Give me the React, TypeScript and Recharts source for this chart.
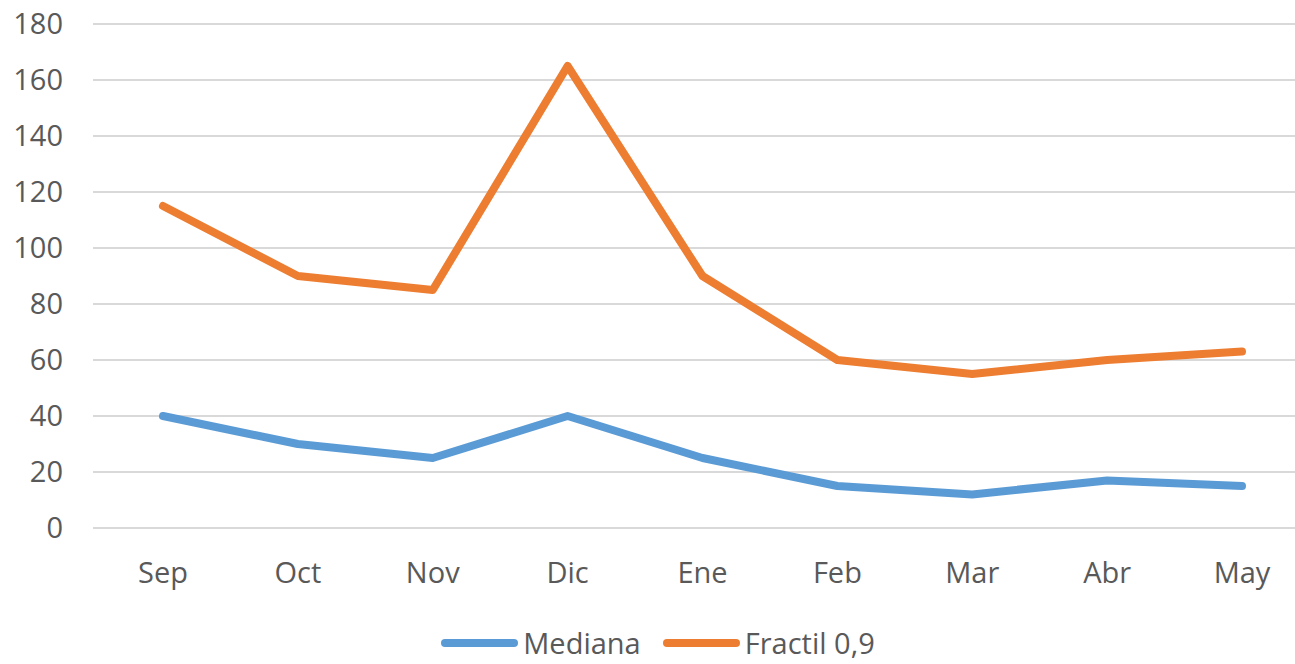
import React from "react";
import { CartesianGrid, Legend, Line, LineChart, XAxis, YAxis } from "recharts";

const months = ["Sep", "Oct", "Nov", "Dic", "Ene", "Feb", "Mar", "Abr", "May"];
const mediana = [40, 30, 25, 40, 25, 15, 12, 17, 15];
const fractil = [115, 90, 85, 165, 90, 60, 55, 60, 63];
const yTicks = [0, 20, 40, 60, 80, 100, 120, 140, 160, 180];

const BLUE = "#5B9BD5";
const ORANGE = "#ED7D31";
const TEXT = "#595959";
const FONT = "'Open Sans', 'Noto Sans', sans-serif";
const FS = 29;

const data = months.map((m, i) => ({ month: m, mediana: mediana[i], fractil: fractil[i] }));

function ChartLegend() {
  const items = [
    { label: "Mediana", color: BLUE },
    { label: "Fractil 0,9", color: ORANGE },
  ];
  return (
    <div
      style={{
        height: 56,
        boxSizing: "border-box",
        paddingTop: 14,
        display: "flex",
        justifyContent: "center",
        alignItems: "center",
        gap: 22,
        paddingLeft: 6,
        fontFamily: FONT,
        fontSize: FS,
        lineHeight: "38px",
        color: TEXT,
      }}
    >
      {items.map((it) => (
        <div key={it.label} style={{ display: "flex", alignItems: "center" }}>
          <span
            style={{
              display: "inline-block",
              width: 77,
              height: 8,
              borderRadius: 4,
              background: it.color,
              marginRight: 5,
            }}
          />
          <span style={{ whiteSpace: "nowrap" }}>{it.label}</span>
        </div>
      ))}
    </div>
  );
}

export default function App() {
  return (
    <div
      style={{
        position: "absolute",
        left: 0,
        top: 0,
        width: 1295,
        height: 664,
        overflow: "hidden",
        background: "#fff",
      }}
    >
      <LineChart
        width={1310}
        height={664}
        data={data}
        margin={{ top: 24, right: 0, left: 0, bottom: 0 }}
      >
        <CartesianGrid vertical={false} stroke="#d9d9d9" strokeWidth={2} />
        <XAxis
          dataKey="month"
          axisLine={false}
          tickLine={false}
          tickSize={0}
          tickMargin={34}
          height={80}
          padding={{ left: 70, right: 68 }}
          tick={{ fill: TEXT, fontSize: FS, fontFamily: FONT }}
          interval={0}
        />
        <YAxis
          domain={[0, 180]}
          ticks={yTicks}
          width={93}
          axisLine={false}
          tickLine={false}
          tickSize={0}
          tickMargin={30}
          tick={{ fill: TEXT, fontSize: FS, fontFamily: FONT }}
        />
        <Legend verticalAlign="bottom" content={<ChartLegend />} />
        <Line
          dataKey="mediana"
          name="Mediana"
          stroke={BLUE}
          strokeWidth={8}
          strokeLinecap="round"
          strokeLinejoin="round"
          dot={false}
          activeDot={false}
          type="linear"
          isAnimationActive={false}
        />
        <Line
          dataKey="fractil"
          name="Fractil 0,9"
          stroke={ORANGE}
          strokeWidth={8}
          strokeLinecap="round"
          strokeLinejoin="round"
          dot={false}
          activeDot={false}
          type="linear"
          isAnimationActive={false}
        />
      </LineChart>
    </div>
  );
}
